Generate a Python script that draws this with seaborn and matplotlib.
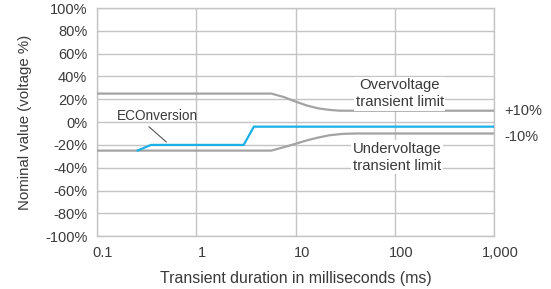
"""Transient voltage limits vs. ECOnversion response."""

import matplotlib.pyplot as plt
import matplotlib.ticker as mticker
import matplotlib.transforms as mtransforms
import pandas as pd
import seaborn as sns

# Overvoltage transient limit (ms, %)
OVER_MS = [0.1, 5.7, 7.6, 10, 13, 17, 22, 28, 1000]
OVER_PCT = [25, 25, 22, 18, 14.5, 12, 10.7, 10, 10]

# Undervoltage transient limit (ms, %)
UNDER_MS = [0.1, 5.7, 7.6, 10, 13, 17, 22, 30, 40, 1000]
UNDER_PCT = [-25, -25, -22, -19, -16, -13.5, -11.5, -10.3, -10, -10]

# ECOnversion response (ms, %)
ECO_MS = [0.255, 0.35, 3.0, 3.8, 1000]
ECO_PCT = [-25, -20, -20, -4, -4]

X_TICKS = [0.1, 1, 10, 100, 1000]
X_LABELS = ["0.1", "1", "10", "100", "1,000"]
Y_TICKS = list(range(-100, 101, 20))

TEXT_COLOR = "#3a3a3a"
GRAY = "#a3a3a3"
BLUE = "#1bb0e6"


def build_frame() -> pd.DataFrame:
    parts = [
        pd.DataFrame({"ms": OVER_MS, "pct": OVER_PCT, "series": "over"}),
        pd.DataFrame({"ms": UNDER_MS, "pct": UNDER_PCT, "series": "under"}),
        pd.DataFrame({"ms": ECO_MS, "pct": ECO_PCT, "series": "eco"}),
    ]
    return pd.concat(parts, ignore_index=True)


def main() -> None:
    sns.set_theme(style="white")
    plt.rcParams["font.family"] = ["Liberation Sans", "DejaVu Sans"]

    df = build_frame()

    fig = plt.figure(figsize=(5.51, 2.89), dpi=100)
    ax = fig.add_axes([0.176, 0.183, 0.721, 0.789])

    sns.lineplot(
        data=df,
        x="ms",
        y="pct",
        hue="series",
        palette={"over": GRAY, "under": GRAY, "eco": BLUE},
        hue_order=["over", "under", "eco"],
        linewidth=1.6,
        legend=False,
        sort=False,
        estimator=None,
        ax=ax,
        zorder=3,
    )

    ax.set_xscale("log")
    ax.set_xlim(0.1, 1000)
    ax.set_ylim(-100, 100)
    ax.set_xticks(X_TICKS)
    ax.set_xticklabels(X_LABELS)
    ax.xaxis.set_minor_locator(mticker.NullLocator())
    ax.set_yticks(Y_TICKS)
    ax.set_yticklabels([f"{v}%" for v in Y_TICKS])
    ax.tick_params(axis="both", length=0, labelsize=10.5, colors=TEXT_COLOR)
    ax.tick_params(axis="y", pad=7)
    ax.tick_params(axis="x", pad=7)

    # the x labels sit a little right of their gridlines in the original
    shift = mtransforms.ScaledTranslation(6 / 100, 0, fig.dpi_scale_trans)
    for label in ax.get_xticklabels():
        label.set_transform(label.get_transform() + shift)

    ax.grid(True, which="major", color="#c4c4c4", linewidth=1.0)
    ax.set_axisbelow(True)
    for spine in ax.spines.values():
        spine.set_color("#c4c4c4")
        spine.set_linewidth(1.0)

    ax.set_xlabel("Transient duration in milliseconds (ms)", fontsize=11.4,
                  color=TEXT_COLOR, labelpad=8)
    ax.set_ylabel("Nominal value (voltage %)", fontsize=10.8,
                  color=TEXT_COLOR, labelpad=9)

    box = dict(facecolor="white", edgecolor="none", pad=1.0)
    ax.text(112, 25, "Overvoltage\ntransient limit", ha="center", va="center",
            fontsize=10.7, color=TEXT_COLOR, bbox=box, zorder=4,
            linespacing=1.3)
    ax.text(105, -31, "Undervoltage\ntransient limit", ha="center", va="center",
            fontsize=10.7, color=TEXT_COLOR, bbox=box, zorder=4,
            linespacing=1.3)
    ax.text(0.16, 5, "ECOnversion", ha="left", va="center", fontsize=9.8,
            color=TEXT_COLOR, zorder=4)
    ax.annotate("", xy=(0.50, -17.5), xytext=(0.333, -4),
                arrowprops=dict(arrowstyle="-", color="#555555", lw=0.8,
                                shrinkA=0, shrinkB=0))

    ax.text(1.025, 10, "+10%", transform=ax.get_yaxis_transform(), ha="left",
            va="center", fontsize=10.5, color=TEXT_COLOR, clip_on=False)
    ax.text(1.025, -13, "-10%", transform=ax.get_yaxis_transform(), ha="left",
            va="center", fontsize=10.5, color=TEXT_COLOR, clip_on=False)

    fig.savefig("out.png", dpi=100)
    plt.close(fig)


if __name__ == "__main__":
    main()
